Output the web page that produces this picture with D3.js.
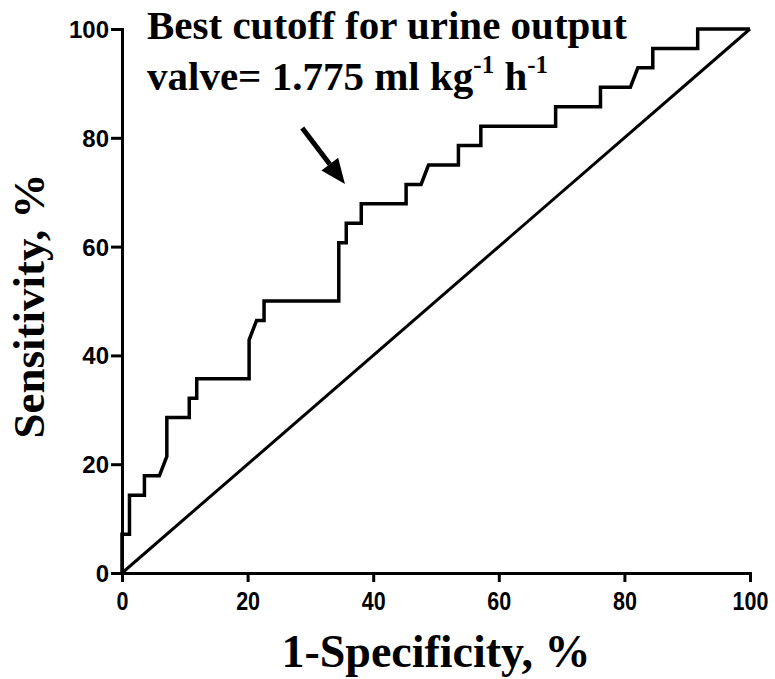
<!DOCTYPE html>
<html>
<head>
<meta charset="utf-8">
<script src="https://cdn.jsdelivr.net/npm/d3@7"></script>
<style>
  body { margin: 0; background: #fff; }
</style>
</head>
<body>
<div id="chart"></div>
<script>
// ROC curve points (1-specificity %, sensitivity %)
const fpr = [0, 0, 1.19, 1.19, 3.57, 3.57, 5.95, 7.14, 7.14, 10.71, 10.71, 11.90, 11.90, 20.24, 20.24,
  21.43, 22.62, 22.62, 34.52, 34.52, 35.71, 35.71, 38.10, 38.10, 45.24, 45.24, 47.62, 48.81, 53.57,
  53.57, 57.14, 57.14, 69.05, 69.05, 76.19, 76.19, 80.95, 82.14, 84.52, 84.52, 91.67, 91.67, 100]
const tpr = [0, 7.14, 7.14, 14.29, 14.29, 17.86, 17.86, 21.43, 28.57, 28.57, 32.14, 32.14, 35.71, 35.71, 42.86,
  46.43, 46.43, 50, 50, 60.71, 60.71, 64.29, 64.29, 67.86, 67.86, 71.43, 71.43, 75, 75,
  78.57, 78.57, 82.14, 82.14, 85.71, 85.71, 89.29, 89.29, 92.86, 92.86, 96.43, 96.43, 100, 100]

// reference diagonal
const diagX = [0, 100]
const diagY = [0, 100]

const xTicks = [0, 20, 40, 60, 80, 100]
const yTicks = [0, 20, 40, 60, 80, 100]

// arrow pointing at the cutoff (start, tip) in data units
const arrowX = [28.7, 35.5]
const arrowY = [81.8, 71.5]

var width = 775
var height = 679
var margin = { top: 29, right: 25, bottom: 106, left: 122 }

const svg = d3.select("#chart").append("svg")
  .attr("width", width)
  .attr("height", height)

const x = d3.scaleLinear().domain([0, 100]).range([margin.left, width - margin.right])
const y = d3.scaleLinear().domain([0, 100]).range([height - margin.bottom, margin.top])

// axes
const xAxis = svg.append("g")
  .attr("transform", `translate(0,${y(0)})`)
  .call(d3.axisBottom(x).tickValues(xTicks).tickSize(9).tickSizeOuter(0).tickPadding(10))
const yAxis = svg.append("g")
  .attr("transform", `translate(${x(0)},0)`)
  .call(d3.axisLeft(y).tickValues(yTicks).tickSize(11).tickSizeOuter(0).tickPadding(2))

svg.selectAll(".domain, .tick line").attr("stroke", "#000").attr("stroke-width", 3)
svg.selectAll(".domain").attr("stroke-linecap", "square")

yAxis.selectAll(".tick text")
  .attr("font-family", "'Liberation Sans', Arial, sans-serif")
  .attr("font-weight", "bold")
  .attr("font-size", 24)
  .attr("fill", "#000")
  .attr("dy", "0.35em")

// x tick labels are a bit narrower in the original
xAxis.selectAll(".tick text")
  .attr("font-family", "'Liberation Sans', Arial, sans-serif")
  .attr("font-weight", "bold")
  .attr("font-size", 25)
  .attr("fill", "#000")
  .attr("transform", "scale(0.86,1)")

// diagonal
const line = d3.line().x(d => x(d[0])).y(d => y(d[1]))
svg.append("path")
  .attr("d", line(diagX.map((v, i) => [v, diagY[i]])))
  .attr("fill", "none")
  .attr("stroke", "#000")
  .attr("stroke-width", 3)

// ROC step curve
svg.append("path")
  .attr("d", line(fpr.map((v, i) => [v, tpr[i]])))
  .attr("fill", "none")
  .attr("stroke", "#000")
  .attr("stroke-width", 3.5)
  .attr("stroke-linejoin", "miter")

// arrow
const ax0 = x(arrowX[0]), ay0 = y(arrowY[0]), ax1 = x(arrowX[1]), ay1 = y(arrowY[1])
const ang = Math.atan2(ay1 - ay0, ax1 - ax0)
const headLen = 25, headHalf = 10.5
const bx = ax1 - headLen * Math.cos(ang), by = ay1 - headLen * Math.sin(ang)
svg.append("line")
  .attr("x1", ax0).attr("y1", ay0).attr("x2", bx).attr("y2", by)
  .attr("stroke", "#000").attr("stroke-width", 5)
svg.append("path")
  .attr("d", `M${ax1},${ay1}L${bx + headHalf * Math.sin(ang)},${by - headHalf * Math.cos(ang)}L${bx - headHalf * Math.sin(ang)},${by + headHalf * Math.cos(ang)}Z`)
  .attr("fill", "#000")

// annotation text
const serif = "'Liberation Serif', 'Times New Roman', serif"
svg.append("text")
  .attr("x", 147).attr("y", 39)
  .attr("font-family", serif).attr("font-weight", "bold").attr("font-size", 41)
  .text("Best cutoff for urine output")

const t2 = svg.append("text")
  .attr("x", 147).attr("y", 90)
  .attr("font-family", serif).attr("font-weight", "bold").attr("font-size", 41)
t2.append("tspan").text("valve= 1.775 ml kg")
t2.append("tspan").attr("font-size", 25).attr("dy", -17).text("-1")
t2.append("tspan").attr("dy", 17).text(" h")
t2.append("tspan").attr("font-size", 25).attr("dy", -17).text("-1")

// axis titles
svg.append("text")
  .attr("x", (x(0) + x(100)) / 2).attr("y", 667)
  .attr("text-anchor", "middle")
  .attr("font-family", serif).attr("font-weight", "bold").attr("font-size", 46)
  .text("1-Specificity, %")

svg.append("text")
  .attr("transform", "translate(44,306) rotate(-90)")
  .attr("text-anchor", "middle")
  .attr("font-family", serif).attr("font-weight", "bold").attr("font-size", 45)
  .text("Sensitivity, %")
</script>
</body>
</html>
